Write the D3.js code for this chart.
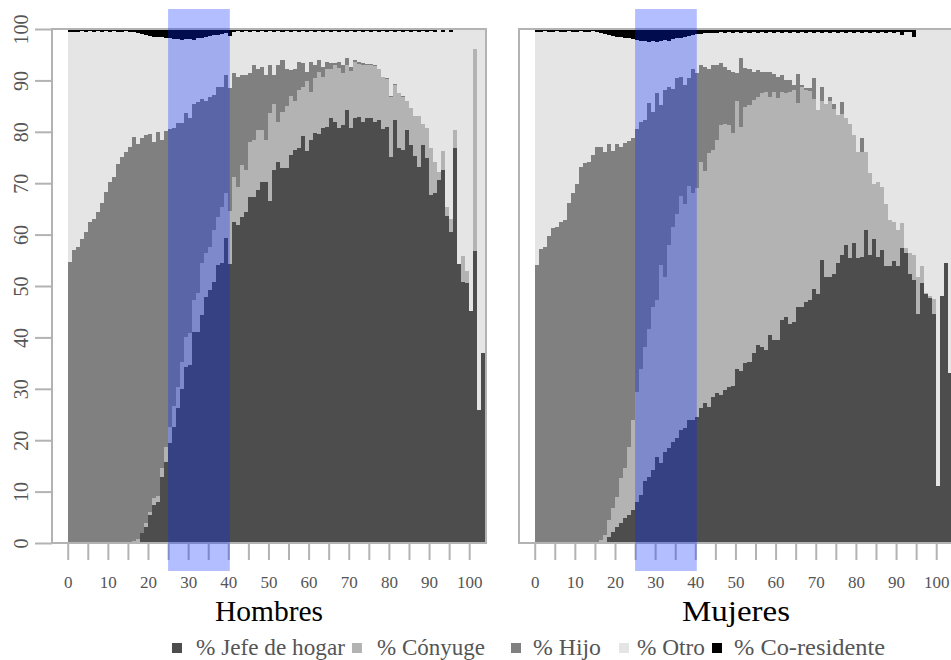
<!DOCTYPE html>
<html>
<head>
<meta charset="utf-8">
<script src="https://cdn.jsdelivr.net/npm/d3@7"></script>
<style>
  body { margin: 0; background: #fff; }
  svg { display: block; font-family: "Liberation Serif", "DejaVu Serif", serif; }
</style>
</head>
<body>
<svg id="chart" width="951" height="660"></svg>
<script>
// ---------------- DATA ----------------
const ages = [
  0,1,2,3,4,5,6,7,8,9, 10,11,12,13,14,15,16,17,18,19,
  20,21,22,23,24,25,26,27,28,29, 30,31,32,33,34,35,36,37,38,39,
  40,41,42,43,44,45,46,47,48,49, 50,51,52,53,54,55,56,57,58,59,
  60,61,62,63,64,65,66,67,68,69, 70,71,72,73,74,75,76,77,78,79,
  80,81,82,83,84,85,86,87,88,89, 90,91,92,93,94,95,96,97,98,99,
  100,101,102,103
];
const panelTitles = ["Hombres", "Mujeres"];
const seriesNames = ["% Jefe de hogar", "% Cónyuge", "% Hijo", "% Otro", "% Co-residente"];
const xTickValues = [0,5,10,15,20,25,30,35,40,45,50,55,60,65,70,75,80,85,90,95,100];
const xTickLabels = [0,10,20,30,40,50,60,70,80,90,100];
const yTickValues = [0,10,20,30,40,50,60,70,80,90,100];
const highlightAges = [25, 40];

// Hombres
const hombresJefe = [
  0,0,0,0,0,0,0,0,0,0,
  0,0,0,0,0,0,0,0,1.9,3.2,
  5.4,7.4,8.0,12.8,15.8,19.4,22.6,26.3,30.0,34.2,
  34.6,41.1,41.1,44.4,47.9,49.2,50.8,54.1,54.5,59.3,
  54.2,62.5,61.9,63.5,64.3,67.4,67.4,68.7,70.3,70.3,
  66.5,72.6,74.2,72.9,73.0,75.5,76.5,76.8,79.1,76.3,
  78.4,79.7,79.6,80.7,81.0,82.6,82.0,80.7,81.3,84.2,
  80.7,82.6,82.9,82.0,82.7,82.6,82.0,82.3,80.5,81.0,
  75.1,82.3,76.8,76.5,80.4,77.4,75.2,73.2,77.4,74.9,
  67.7,68.0,70.6,72.6,63.7,60.6,76.9,54.2,50.8,50.5,
  45.1,56.8,25.9,36.9
];
const hombresConyuge = [
  0,0,0,0,0,0,0,0,0,0,
  0,0,0,0,0,0,0.4,0.7,0,0.7,
  0.7,1.3,1.1,1.7,2.8,3.2,4.1,4.0,5.2,5.9,
  6.3,6.2,7.5,10.1,8.5,8.4,10.1,9.4,10.9,8.7,
  10.3,8.8,7.4,10.0,8.3,10.7,11.0,11.7,10.1,8.1,
  17.1,12.9,7.8,11.0,12.0,11.4,9.4,11.4,9.7,13.5,
  9.4,10.7,12.1,10.0,11.3,9.7,10.9,11.8,10.2,8.8,
  11.1,10.9,10.3,11.0,10.2,10.3,10.8,9.9,10.1,9.3,
  11.7,6.9,10.7,10.3,5.5,7.2,7.9,9.9,4.2,5.8,
  9.1,6.2,1.6,3.7,1.7,2.4,3.5,0,5.1,2.4,
  0,39.3,0,0
];
const hombresHijo = [
  54.7,57.0,57.5,59.1,60.6,62.4,63.0,64.3,66.2,68.3,
  70.2,71.3,73.7,75.1,76.1,77.0,78.6,76.9,76.8,75.5,
  73.5,69.4,70.9,64.0,61.6,57.9,54.1,51.4,46.5,43.5,
  41.7,38.2,37.2,31.8,29.6,29.2,26.3,25.3,23.4,23.0,
  24.0,20.1,21.4,17.6,18.5,13.3,14.5,11.9,12.2,12.7,
  9.3,5.6,10.9,10.0,7.3,5.1,6.4,5.4,4.5,1.9,
  5.8,2.5,2.2,1.9,1.3,1.0,0.4,1.0,1.5,1.3,
  0.9,0.5,0.4,0.3,0.2,0.2,0.2,0.1,0.1,0.1,
  0.1,0.1,0.1,0.1,0.1,0,0,0,0,0,
  0,0,0,0,0,0,0,0,0,0,
  0,0,0,0
];
const hombresOtro = [
  44.8,42.5,42.0,40.5,38.9,37.2,36.5,35.3,33.3,31.3,
  29.3,28.3,25.8,24.4,23.5,22.5,20.4,21.6,20.3,19.4,
  19.1,20.4,18.4,19.9,18.1,17.7,17.3,16.3,16.2,14.4,
  15.5,12.4,12.4,12.0,12.5,11.8,11.6,10.1,10.3,8.3,
  10.2,8.1,8.9,8.4,8.5,8.1,6.7,7.2,7.0,8.4,
  6.7,8.4,6.7,5.6,7.3,7.5,7.3,5.9,6.3,7.8,
  6.0,6.6,5.7,6.9,6.0,6.2,6.3,6.0,6.6,5.2,
  6.9,5.5,6.0,6.2,6.5,6.4,6.6,7.2,8.9,9.1,
  12.7,10.2,12.0,12.6,13.6,14.9,16.5,16.4,18.0,18.8,
  22.8,25.3,27.8,23.1,34.6,36.5,19.6,45.8,44.1,47.1,
  54.9,3.9,74.1,63.1
];
const hombresCoresidente = [
  0.5,0.5,0.5,0.4,0.5,0.4,0.5,0.4,0.5,0.4,
  0.5,0.4,0.5,0.5,0.4,0.5,0.6,0.8,1.0,1.2,
  1.3,1.5,1.6,1.6,1.7,1.8,1.9,2.0,2.1,2.0,
  1.9,2.1,1.8,1.7,1.5,1.4,1.2,1.1,0.9,0.7,
  1.3,0.5,0.4,0.5,0.4,0.5,0.4,0.5,0.4,0.5,
  0.4,0.5,0.4,0.5,0.4,0.5,0.4,0.5,0.4,0.5,
  0.4,0.5,0.4,0.5,0.4,0.5,0.4,0.5,0.4,0.5,
  0.4,0.5,0.4,0.5,0.4,0.5,0.4,0.5,0.4,0.5,
  0.4,0.5,0.4,0.5,0.4,0.5,0.4,0.5,0.4,0.5,
  0.4,0.5,0,0.6,0,0.5,0,0,0,0,
  0,0,0,0
];

// Mujeres
const mujeresJefe = [
  0,0,0,0,0,0,0,0,0,0,
  0,0,0,0,0,0,0,0,1.2,2.2,
  3.2,3.8,4.8,5.5,6.4,8.0,9.4,12.0,12.9,14.2,
  16.8,15.5,17.8,18.4,19.7,20.4,22.0,22.3,24.0,23.9,
  24.6,26.2,27.2,26.5,28.5,29.1,28.8,29.8,30.4,30.5,
  33.9,33.5,35.0,35.3,36.9,38.5,38.2,37.5,40.5,39.5,
  39.5,43.4,44.0,42.7,42.9,45.9,45.9,46.9,47.2,49.5,
  48.5,55.0,51.8,51.8,52.4,54.4,56.1,58.0,55.5,58.3,
  55.4,55.6,60.9,56.0,59.2,55.7,57.0,53.8,53.8,54.8,
  53.8,57.3,56.4,52.4,51.2,44.5,50.5,48.4,47.7,44.5,
  11.0,48.0,54.4,33.0
];
const mujeresConyuge = [
  0,0,0,0,0,0,0,0,0,0,
  0,0,0,0,0,0,0.6,1.6,3.3,4.6,
  5.8,8.8,9.7,13.2,17.5,21.3,24.5,26.2,28.8,31.7,
  30.4,38.6,34.0,39.6,41.8,43.6,45.5,43.7,45.5,44.1,
  44.4,48.0,45.1,49.3,47.9,49.3,52.5,51.8,50.9,49.2,
  52.0,47.5,49.9,49.9,49.3,48.3,49.3,50.3,46.3,48.3,
  47.0,44.4,43.5,45.1,45.2,39.7,42.9,41.3,40.7,36.8,
  35.7,30.9,33.7,34.1,32.1,28.8,27.4,24.6,26.1,21.0,
  20.7,20.5,15.2,16.0,10.7,14.5,12.3,12.2,9.0,7.7,
  7.1,4.9,0.9,4.0,4.9,7.3,3.3,0.2,0.3,3.0,
  0,0,0,0
];
const mujeresHijo = [
  54.1,57.2,57.6,59.8,61.2,61.5,62.5,62.9,66.1,68.1,
  69.8,73.2,74.0,74.2,75.5,77.1,76.5,74.5,73.2,69.5,
  68.7,64.5,63.4,59.5,54.9,51.2,48.1,44.1,43.9,37.9,
  40.3,31.1,36.3,30.8,26.9,26.4,23.2,23.1,20.9,24.3,
  22.5,18.7,20.3,16.5,16.5,14.5,12.0,11.0,10.7,12.0,
  5.6,13.3,7.5,7.1,5.5,5.2,4.2,3.9,4.9,3.5,
  4.2,3.2,2.5,2.2,1.0,5.6,0.3,0.3,0.6,4.2,
  0,2.8,0,0.9,1.0,0,2.3,0,0,0,
  0,2.6,0,0,0,0,0,0,0,0,
  0,0,0,0,0,0,0,0,0,0,
  0,0,0,0
];
const mujeresOtro = [
  45.4,42.3,42.0,39.7,38.3,38.1,37.0,36.6,33.5,31.4,
  29.7,26.4,25.5,25.3,24.1,22.4,22.1,22.9,21.1,22.3,
  20.8,21.3,20.4,20.0,19.3,17.4,15.7,15.3,11.9,13.8,
  10.0,12.4,9.7,8.9,9.6,7.8,7.6,9.4,8.2,6.5,
  7.5,6.2,6.6,6.9,6.4,6.4,6.1,6.7,7.4,7.6,
  7.9,5.0,7.0,7.0,7.7,7.3,7.7,7.6,7.7,8.0,
  8.7,8.3,9.4,9.3,10.3,8.1,10.3,10.8,10.9,8.8,
  15.2,10.6,13.9,12.5,13.9,16.1,13.6,16.7,17.8,20.0,
  23.3,20.6,23.3,27.3,29.5,29.1,30.1,33.3,36.6,36.8,
  38.5,36.6,42.2,43.0,42.4,48.2,46.2,51.4,52.0,52.5,
  89.0,52.0,45.6,67.0
];
const mujeresCoresidente = [
  0.5,0.5,0.4,0.5,0.5,0.4,0.5,0.5,0.4,0.5,
  0.5,0.4,0.5,0.5,0.4,0.5,0.8,1.0,1.2,1.4,
  1.5,1.6,1.7,1.8,1.9,2.1,2.3,2.4,2.5,2.4,
  2.5,2.4,2.2,2.3,2.0,1.8,1.7,1.5,1.4,1.2,
  1.0,0.9,0.8,0.8,0.7,0.7,0.6,0.7,0.6,0.7,
  0.6,0.7,0.6,0.7,0.6,0.7,0.6,0.7,0.6,0.7,
  0.6,0.7,0.6,0.7,0.6,0.7,0.6,0.7,0.6,0.7,
  0.6,0.7,0.6,0.7,0.6,0.7,0.6,0.7,0.6,0.7,
  0.6,0.7,0.6,0.7,0.6,0.7,0.6,0.7,0.6,0.7,
  0.6,1.2,0.5,0.6,1.5,0,0,0,0,0,
  0,0,0,0
];

// ---------------- LAYOUT / STYLE ----------------
const keys = ["jefe", "conyuge", "hijo", "otro", "cores"];
const colors = ["#4d4d4d", "#b3b3b3", "#808080", "#e5e5e5", "#000000"];
const axisColor = "#b3b3b3";
const panels = [
  { title: panelTitles[0], left: 52, yAxis: true,
    series: [hombresJefe, hombresConyuge, hombresHijo, hombresOtro, hombresCoresidente] },
  { title: panelTitles[1], left: 519, yAxis: false,
    series: [mujeresJefe, mujeresConyuge, mujeresHijo, mujeresOtro, mujeresCoresidente] }
];
panels.forEach(p => p.series.forEach((s, j) => {
  if (s.length !== ages.length) throw new Error(p.title + " " + keys[j] + " length " + s.length);
}));

const panelW = 434, inset = 15.7;
const plotTop = 29, plotBottom = 543;

const svg = d3.select("#chart");
const y = d3.scaleLinear().domain([0, 100]).range([plotBottom, plotTop]);

panels.forEach(p => {
  const x = d3.scaleLinear()
    .domain([0, ages.length])
    .range([p.left + inset, p.left + inset + 4.015 * ages.length]);

  const rows = ages.map((a, i) => {
    const r = { age: a };
    keys.forEach((k, j) => r[k] = p.series[j][i]);
    return r;
  });
  const stacked = d3.stack().keys(keys)(rows);

  const g = svg.append("g");
  g.selectAll("g.layer").data(stacked).join("g")
    .attr("class", "layer")
    .attr("fill", (d, j) => colors[j])
    .attr("shape-rendering", "crispEdges")
    .selectAll("rect").data(d => d).join("rect")
      .attr("x", d => x(d.data.age))
      .attr("width", d => x(d.data.age + 1) - x(d.data.age))
      .attr("y", d => y(d[1]))
      .attr("height", d => Math.max(0, y(d[0]) - y(d[1])));

  // panel frame
  g.append("rect")
    .attr("x", p.left).attr("y", plotTop)
    .attr("width", panelW).attr("height", plotBottom - plotTop)
    .attr("fill", "none").attr("stroke", axisColor).attr("stroke-width", 2);

  // x axis
  const xAxis = d3.axisBottom(x)
    .tickValues(xTickValues)
    .tickSize(17)
    .tickPadding(16)
    .tickFormat(d => xTickLabels.includes(d) ? d : "");
  const gx = g.append("g").attr("transform", `translate(0,${plotBottom})`).call(xAxis);
  gx.select(".domain").remove();
  gx.selectAll("line").attr("stroke", axisColor).attr("stroke-width", 2);
  gx.selectAll("text").attr("fill", "#555").attr("font-size", 17)
    .attr("font-family", '"Liberation Serif", serif');

  // y axis
  if (p.yAxis) {
    const yAxis = d3.axisLeft(y).tickValues(yTickValues).tickSize(17);
    const gy = g.append("g").attr("transform", `translate(${p.left},0)`).call(yAxis);
    gy.select(".domain").remove();
    gy.selectAll("line").attr("stroke", axisColor).attr("stroke-width", 2);
    gy.selectAll("text")
      .attr("transform", "rotate(-90)")
      .attr("x", 0).attr("y", -24).attr("dy", null)
      .attr("text-anchor", "middle")
      .attr("fill", "#555").attr("font-size", 20)
      .attr("font-family", '"Liberation Serif", serif');
  }

  // highlighted age band
  g.append("rect")
    .attr("x", x(highlightAges[0]))
    .attr("width", x(highlightAges[1]) - x(highlightAges[0]) + 1.5)
    .attr("y", 9).attr("height", 562)
    .attr("fill", "rgb(0,40,255)").attr("fill-opacity", 0.3);

  // panel title
  g.append("text")
    .attr("x", p.left + panelW / 2).attr("y", 621)
    .attr("text-anchor", "middle")
    .attr("font-size", 30).attr("fill", "#000")
    .attr("textLength", 108).attr("lengthAdjust", "spacingAndGlyphs")
    .text(p.title);
});

// legend
const legendSquareX = [172, 352, 511, 619, 712];
const legendTextX = [196, 377, 533, 637, 734];
const legendWidths = [149, 108, 68, 68, 151];
const lg = svg.append("g");
seriesNames.forEach((name, j) => {
  lg.append("rect")
    .attr("x", legendSquareX[j]).attr("y", 643)
    .attr("width", 10).attr("height", 10)
    .attr("fill", colors[j]);
  lg.append("text")
    .attr("x", legendTextX[j]).attr("y", 655)
    .attr("font-size", 23).attr("fill", "#555")
    .attr("textLength", legendWidths[j]).attr("lengthAdjust", "spacingAndGlyphs")
    .text(name);
});
</script>
</body>
</html>
